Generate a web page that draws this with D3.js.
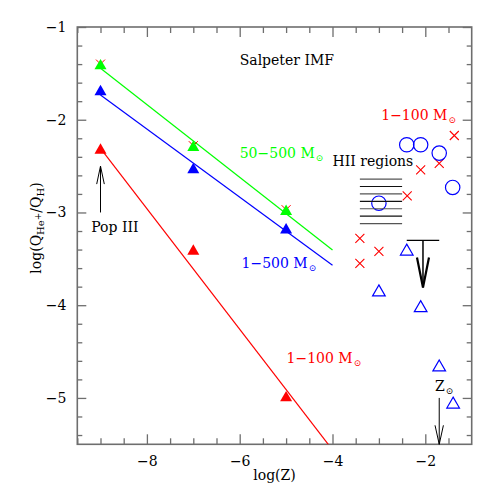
<!DOCTYPE html>
<html>
<head>
<meta charset="utf-8">
<script src="https://cdn.jsdelivr.net/npm/d3@7"></script>
<style>
  body { margin: 0; background: #fff; }
  svg { display: block; }
  text { font-family: "DejaVu Serif", "Liberation Serif", serif; }
</style>
</head>
<body>
<svg id="chart" width="498" height="498"></svg>
<script>
// model points (Salpeter IMF), x = log(Z)
var modelZ = [-9, -7, -5];
var green50_500 = [-1.40, -2.28, -2.97];
var blue1_500 = [-1.68, -2.52, -3.17];
var red1_100 = [-2.31, -3.40, -4.98];

// straight lines: [x0, x1, y at x0, slope]
var greenFit = [-9, -4, -1.445, -0.392];
var blueFit = [-9, -4, -1.734, -0.367];
var redFit = [-9, -4, -2.31, -0.65];

// observed HII regions
var crossX = [-1.375, -2.10, -1.70, -2.39, -3.41, -3.00, -3.41];
var crossY = [-2.17, -2.54, -2.47, -2.82, -3.28, -3.42, -3.55];
var circleX = [-2.40, -2.10, -1.70, -1.41, -3.00];
var circleY = [-2.27, -2.27, -2.36, -2.73, -2.90];
var openTriX = [-2.40, -3.00, -2.10, -1.70, -1.40];
var openTriY = [-3.40, -3.84, -4.01, -4.65, -5.05];

// hatched band of HII regions
var bandX = [-3.41, -2.50];
var bandY = [-2.64, -2.72, -2.80, -2.88, -2.96, -3.04, -3.12];

// upper limit: bar x range, y, arrow x, arrow tip y
var limitBar = [-2.40, -1.70, -3.30];
var limitArrow = [-2.05, -3.30, -3.81];

var xMajor = [-8, -6, -4, -2];
var yMajor = [-1, -2, -3, -4, -5];

var mLeft = 77.3, mRight = 471.7, mTop = 27, mBottom = 444.3;

var svg = d3.select('#chart');

var x = d3.scaleLinear().domain([-9.5, -1]).range([mLeft, mRight]);
var y = d3.scaleLinear().domain([-5.5, -1]).range([mBottom, mTop]);

var red = '#ff0000', green = '#00ff00', blue = '#0000ff', axisGrey = '#6e6e6e';

svg.append('clipPath').attr('id', 'plotClip')
  .append('rect')
    .attr('x', mLeft).attr('y', mTop)
    .attr('width', mRight - mLeft).attr('height', mBottom - mTop);

// axes, ticks pointing inward on all four sides
var xMinor = d3.range(-9.5, -1.01, 0.5).filter(function(v) { return xMajor.indexOf(v) < 0; });
var yMinor = d3.range(-5.4, -1.01, 0.2).map(function(v) { return Math.round(v * 10) / 10; })
  .filter(function(v) { return yMajor.indexOf(v) < 0; });

function styleAxis(g) {
  g.select('.domain').remove();
  g.selectAll('.tick line').attr('stroke', axisGrey).attr('stroke-width', 1.3);
  g.selectAll('.tick text').attr('fill', '#000').style('font-size', '14px')
    .style('font-family', '"DejaVu Serif", serif');
}

svg.append('g').attr('transform', 'translate(0,' + mBottom + ')')
  .call(d3.axisBottom(x).tickValues(xMajor).tickSize(-10).tickPadding(12).tickFormat(d3.format('d')))
  .call(styleAxis);
svg.append('g').attr('transform', 'translate(0,' + mBottom + ')')
  .call(d3.axisBottom(x).tickValues(xMinor).tickSize(-6).tickFormat(''))
  .call(styleAxis);
svg.append('g').attr('transform', 'translate(0,' + mTop + ')')
  .call(d3.axisTop(x).tickValues(xMajor).tickSize(-10).tickFormat(''))
  .call(styleAxis);
svg.append('g').attr('transform', 'translate(0,' + mTop + ')')
  .call(d3.axisTop(x).tickValues(xMinor).tickSize(-6).tickFormat(''))
  .call(styleAxis);

svg.append('g').attr('transform', 'translate(' + mLeft + ',0)')
  .call(d3.axisLeft(y).tickValues(yMajor).tickSize(-9).tickPadding(11).tickFormat(d3.format('d')))
  .call(styleAxis);
svg.append('g').attr('transform', 'translate(' + mLeft + ',0)')
  .call(d3.axisLeft(y).tickValues(yMinor).tickSize(-5).tickFormat(''))
  .call(styleAxis);
svg.append('g').attr('transform', 'translate(' + mRight + ',0)')
  .call(d3.axisRight(y).tickValues(yMajor).tickSize(-9).tickFormat(''))
  .call(styleAxis);
svg.append('g').attr('transform', 'translate(' + mRight + ',0)')
  .call(d3.axisRight(y).tickValues(yMinor).tickSize(-5).tickFormat(''))
  .call(styleAxis);

svg.append('rect')
    .attr('x', mLeft).attr('y', mTop)
    .attr('width', mRight - mLeft).attr('height', mBottom - mTop)
    .attr('fill', 'none')
    .attr('stroke', axisGrey)
    .attr('stroke-width', 1.6);

// axis titles
svg.append('text')
    .attr('x', (mLeft + mRight) / 2).attr('y', 480)
    .attr('text-anchor', 'middle')
    .style('font-size', '14px')
    .text('log(Z)');

var ylab = svg.append('text')
    .attr('transform', 'translate(41,228) rotate(-90)')
    .attr('text-anchor', 'middle')
    .style('font-size', '14px');
ylab.append('tspan').text('log(Q');
ylab.append('tspan').attr('dy', 3).style('font-size', '10px').text('He');
ylab.append('tspan').attr('dy', -3).style('font-size', '9px').text('+');
ylab.append('tspan').attr('dy', 0).text('/Q');
ylab.append('tspan').attr('dy', 3).style('font-size', '10px').text('H');
ylab.append('tspan').attr('dy', -3).text(')');

// fit lines
var plot = svg.append('g').attr('clip-path', 'url(#plotClip)');
[[greenFit, green], [blueFit, blue], [redFit, red]].forEach(function(f) {
  var p = f[0];
  plot.append('line')
      .attr('x1', x(p[0])).attr('y1', y(p[2]))
      .attr('x2', x(p[1])).attr('y2', y(p[2] + p[3] * (p[1] - p[0])))
      .attr('stroke', f[1])
      .attr('stroke-width', 1.2);
});

// custom symbols
var triangle = {
  draw: function(ctx, size) {
    var w = Math.sqrt(size), h = w * 0.866;
    ctx.moveTo(0, -h / 2);
    ctx.lineTo(w / 2, h / 2);
    ctx.lineTo(-w / 2, h / 2);
    ctx.closePath();
  }
};
var cross = {
  draw: function(ctx, size) {
    var a = Math.sqrt(size) / 2;
    ctx.moveTo(-a, -a); ctx.lineTo(a, a);
    ctx.moveTo(a, -a); ctx.lineTo(-a, a);
  }
};

function markers(xs, ys, type, size, fill, stroke, sw) {
  plot.append('g').selectAll('path')
    .data(xs.map(function(v, i) { return [v, ys[i]]; }))
    .join('path')
      .attr('transform', function(d) { return 'translate(' + x(d[0]) + ',' + y(d[1]) + ')'; })
      .attr('d', d3.symbol(type, size))
      .attr('fill', fill)
      .attr('stroke', stroke)
      .attr('stroke-width', sw);
}

// model markers (red crosses sit under the green triangles)
markers(modelZ, green50_500, cross, 81, 'none', red, 1);
markers(modelZ, green50_500, triangle, 144, green, 'none', 0);
markers(modelZ, blue1_500, triangle, 144, blue, 'none', 0);
markers(modelZ, red1_100, triangle, 144, red, 'none', 0);

// HII band
svg.append('g').selectAll('line')
  .data(bandY)
  .join('line')
    .attr('x1', x(bandX[0])).attr('x2', x(bandX[1]))
    .attr('y1', function(d) { return y(d); }).attr('y2', function(d) { return y(d); })
    .attr('stroke', function(d, i) { return i % 2 ? '#111' : '#555'; })
    .attr('stroke-width', 1.2);

// observations
markers(crossX, crossY, cross, 81, 'none', red, 1.1);
plot.append('g').selectAll('circle')
  .data(circleX.map(function(v, i) { return [v, circleY[i]]; }))
  .join('circle')
    .attr('cx', function(d) { return x(d[0]); })
    .attr('cy', function(d) { return y(d[1]); })
    .attr('r', 7.2)
    .attr('fill', 'none')
    .attr('stroke', blue)
    .attr('stroke-width', 1.2);
markers(openTriX, openTriY, triangle, 160, 'none', blue, 1.2);

// arrows
function arrow(xv, yFrom, yTo, hw, hl, sw, hsw) {
  var g = svg.append('g').attr('stroke', '#000').attr('fill', 'none');
  var tx = x(xv), ty = y(yTo), dir = y(yTo) > y(yFrom) ? -1 : 1;
  g.append('line')
      .attr('x1', tx).attr('y1', y(yFrom))
      .attr('x2', tx).attr('y2', ty)
      .attr('stroke-width', sw);
  g.append('path')
      .attr('d', 'M' + (tx - hw) + ',' + (ty + dir * hl) + 'L' + tx + ',' + ty + 'L' + (tx + hw) + ',' + (ty + dir * hl))
      .attr('stroke-width', hsw)
      .attr('stroke-linejoin', 'miter');
}

svg.append('line')
    .attr('x1', x(limitBar[0])).attr('x2', x(limitBar[1]))
    .attr('y1', y(limitBar[2])).attr('y2', y(limitBar[2]))
    .attr('stroke', '#000').attr('stroke-width', 1.3);
arrow(limitArrow[0], limitArrow[1], limitArrow[2], 6, 30, 1.5, 2.2);
arrow(-9, -3.0, -2.5, 3.8, 18, 1, 1);
arrow(-1.70, -5.0, -5.5, 4.2, 19, 1, 1);

// labels
function label(xv, yv, color, main, sub) {
  var t = svg.append('text')
      .attr('x', x(xv)).attr('y', y(yv))
      .attr('fill', color)
      .style('font-size', '14px');
  t.append('tspan').text(main);
  if (sub) t.append('tspan').attr('dy', 3).attr('dx', 1).style('font-size', '9px').text(sub);
}

label(-6.0, -1.41, '#000', 'Salpeter IMF');
label(-6.0, -2.41, green, '50\u2212500 M', '\u2299');
label(-5.96, -3.60, blue, '1\u2212500 M', '\u2299');
label(-4.99, -4.62, red, '1\u2212100 M', '\u2299');
label(-2.95, -2.0, red, '1\u2212100 M', '\u2299');
label(-4.0, -2.50, '#000', 'HII regions');
label(-9.2, -3.21, '#000', 'Pop III');
label(-1.79, -4.92, '#000', 'Z', '\u2299');
</script>
</body>
</html>
